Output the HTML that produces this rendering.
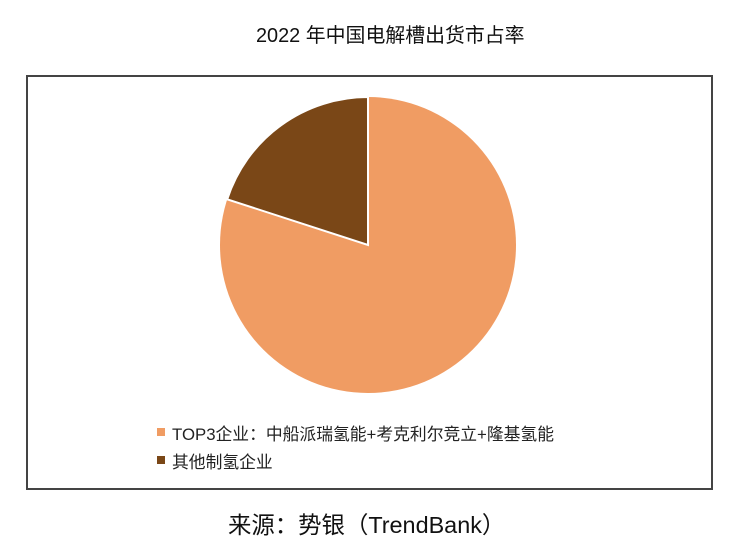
<!DOCTYPE html>
<html><head><meta charset="utf-8"><style>
body{margin:0;width:737px;height:545px;background:#fff;position:relative;font-family:"Liberation Sans","Noto Sans CJK SC",sans-serif;overflow:hidden}
</style></head><body>
<div style="position:absolute;left:256px;top:19px;font-size:19.9px;color:#111;white-space:nowrap">2022 年中国电解槽出货市占率</div>
<div style="position:absolute;left:26px;top:75px;width:683px;height:411px;border:2px solid #444"></div>
<svg style="position:absolute;left:0;top:0" width="737" height="545">
<circle cx="368" cy="245" r="148" fill="#F09C63"/>
<path d="M368,245 L368,97 A148,148 0 0 0 227.2,199.3 Z" fill="#7A4717" stroke="#fff" stroke-width="2"/>
<rect x="157" y="428" width="8" height="8" fill="#F09C63"/>
<rect x="157" y="456" width="8" height="8" fill="#7A4717"/>
</svg>
<div style="position:absolute;left:172px;top:421px;font-size:16.8px;color:#222;white-space:nowrap">TOP3企业：中船派瑞氢能+考克利尔竞立+隆基氢能</div>
<div style="position:absolute;left:172px;top:449px;font-size:16.8px;color:#222">其他制氢企业</div>
<div style="position:absolute;left:228px;top:506px;font-size:23.4px;color:#111;white-space:nowrap">来源：势银（TrendBank）</div>
</body></html>
